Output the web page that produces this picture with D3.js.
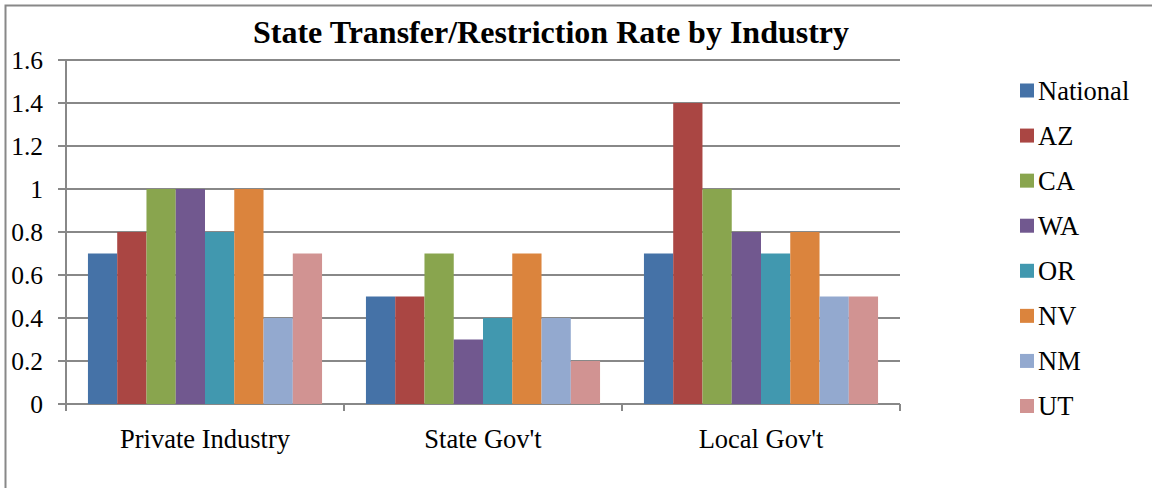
<!DOCTYPE html>
<html>
<head>
<meta charset="utf-8">
<script src="https://cdn.jsdelivr.net/npm/d3@7"></script>
<style>
  body { margin: 0; background: #fff; }
  text { font-family: "Liberation Serif", "Times New Roman", serif; fill: #000; }
</style>
</head>
<body>
<svg id="chart" width="1152" height="488"></svg>
<script>
// data
let categories = ["Private Industry", "State Gov't", "Local Gov't"];
let seriesNames = ["National", "AZ", "CA", "WA", "OR", "NV", "NM", "UT"];
let National = [0.7, 0.5, 0.7];
let AZ = [0.8, 0.5, 1.4];
let CA = [1.0, 0.7, 1.0];
let WA = [1.0, 0.3, 0.8];
let OR = [0.8, 0.4, 0.7];
let NV = [1.0, 0.7, 0.8];
let NM = [0.4, 0.4, 0.5];
let UT = [0.7, 0.2, 0.5];
let yTicks = [0, 0.2, 0.4, 0.6, 0.8, 1, 1.2, 1.4, 1.6];
let colors = ["#4572a7", "#aa4643", "#89a54e", "#71588f", "#4198af", "#db843d", "#93a9cf", "#d19392"];

let values = [National, AZ, CA, WA, OR, NV, NM, UT];

let svg = d3.select("#chart");
let axisColor = "#888888";
let serif = "'Liberation Serif', 'Times New Roman', serif";

// outer chart border (right/bottom run off the picture)
svg.append("rect")
    .attr("x", 5.5).attr("y", 5.5)
    .attr("width", 1160).attr("height", 500)
    .attr("fill", "none")
    .attr("stroke", axisColor)
    .attr("stroke-width", 2);

let plotLeft = 66, plotRight = 900, plotTop = 60, plotBottom = 404;

let xScale = d3.scaleBand()
    .domain(categories)
    .range([plotLeft, plotRight])
    .paddingInner(0)
    .paddingOuter(0);

let inner = d3.scaleBand()
    .domain(seriesNames)
    .range([0, xScale.bandwidth()])
    .paddingInner(0)
    .paddingOuter(0.75);

let yScale = d3.scaleLinear()
    .domain([0, 1.6])
    .range([plotBottom, plotTop]);

// gridlines
svg.append("g")
    .selectAll("line")
    .data(yTicks)
    .enter().append("line")
    .attr("x1", plotLeft - 8)
    .attr("x2", plotRight)
    .attr("y1", d => yScale(d))
    .attr("y2", d => yScale(d))
    .attr("stroke", axisColor)
    .attr("stroke-width", 2);

// bars
let rows = [];
categories.forEach((c, i) => {
    seriesNames.forEach((s, j) => {
        rows.push({cat: c, series: s, value: values[j][i], color: colors[j]});
    });
});

svg.append("g")
    .selectAll(".bar")
    .data(rows)
    .enter().append("rect")
    .attr("class", "bar")
    .attr("x", d => xScale(d.cat) + inner(d.series))
    .attr("y", d => yScale(d.value))
    .attr("width", inner.bandwidth())
    .attr("height", d => plotBottom - yScale(d.value))
    .attr("fill", d => d.color);

// y axis
let yAxis = d3.axisLeft(yScale)
    .tickValues(yTicks)
    .tickFormat(d => d3.format("~g")(d))
    .tickSize(0)
    .tickPadding(23);

let gy = svg.append("g")
    .attr("transform", "translate(" + plotLeft + ",0)")
    .attr("font-family", serif)
    .call(yAxis);
gy.select(".domain").remove();
gy.selectAll("text")
    .style("font-size", "25.5px")
    .style("font-family", serif)
    .attr("dy", "0.34em");

svg.append("line")
    .attr("x1", plotLeft).attr("x2", plotLeft)
    .attr("y1", plotTop).attr("y2", plotBottom + 7)
    .attr("stroke", axisColor).attr("stroke-width", 2);

// x axis
let xAxis = d3.axisBottom(xScale)
    .tickSize(0)
    .tickPadding(25);

let gx = svg.append("g")
    .attr("transform", "translate(0," + plotBottom + ")")
    .attr("font-family", serif)
    .call(xAxis);
gx.select(".domain").remove();
gx.selectAll("text")
    .style("font-size", "26.5px")
    .style("font-family", serif);

svg.append("g")
    .selectAll("line")
    .data(categories.slice(1).concat(["end"]))
    .enter().append("line")
    .attr("x1", d => d === "end" ? plotRight : xScale(d))
    .attr("x2", d => d === "end" ? plotRight : xScale(d))
    .attr("y1", plotBottom)
    .attr("y2", plotBottom + 7)
    .attr("stroke", axisColor).attr("stroke-width", 2);

// title
svg.append("text")
    .attr("x", 551)
    .attr("y", 43)
    .attr("text-anchor", "middle")
    .style("font-size", "32px")
    .style("font-weight", "bold")
    .text("State Transfer/Restriction Rate by Industry");

// legend
let legendY = d3.scalePoint()
    .domain(seriesNames)
    .range([90.5, 406]);

let legend = svg.append("g")
    .selectAll("g")
    .data(seriesNames)
    .enter().append("g")
    .attr("transform", d => "translate(1020," + legendY(d) + ")");

legend.append("rect")
    .attr("x", 0).attr("y", -7)
    .attr("width", 14).attr("height", 14)
    .attr("fill", (d, i) => colors[i]);

legend.append("text")
    .attr("x", 18)
    .attr("dy", "0.34em")
    .style("font-size", "26.5px")
    .style("font-family", serif)
    .text(d => d);
</script>
</body>
</html>
